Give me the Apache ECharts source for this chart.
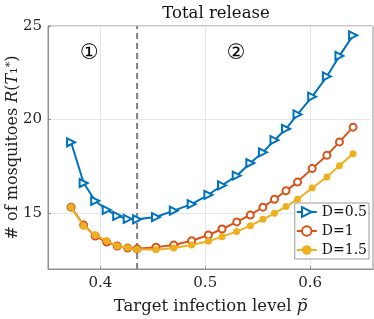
<!DOCTYPE html>
<html><head><meta charset="utf-8">
<script src="https://cdn.jsdelivr.net/npm/echarts@6/dist/echarts.min.js"></script>
<style>html,body{margin:0;padding:0;background:#fff}#c{width:374px;height:319px}</style>
</head><body><div id="c"></div>
<script>
const pTilde = [0.372,0.384,0.395,0.406,0.416,0.426,0.435,0.453,0.470,0.487,0.503,0.516,0.530,0.543,0.555,0.566,0.577,0.588,0.602,0.616,0.628,0.641];
const d05 = [18.78,16.6,15.65,15.16,14.84,14.68,14.66,14.78,15.12,15.47,15.97,16.47,16.99,17.67,18.24,18.89,19.5,20.27,21.22,22.3,23.4,24.5];
const d1  = [15.31,14.35,13.76,13.44,13.23,13.12,13.08,13.17,13.28,13.51,13.82,14.14,14.52,14.89,15.31,15.73,16.18,16.65,17.37,18.08,18.8,19.59];
const d15 = [15.31,14.3,13.82,13.51,13.23,13.14,13.05,13.03,13.12,13.28,13.48,13.73,14.0,14.32,14.66,14.98,15.34,15.73,16.33,16.92,17.53,18.16];
const seriesNames = ['D=0.5','D=1','D=1.5'];
const xTicks = [0.4,0.5,0.6];
const yTicks = [15,20,25];
const yRange = [12,25];
const dividerX = 0.435;
const regionLabels = ['①','②'];
const regionX = [0.3895,0.5295];
const regionY = 23.5;

const serif = 'DejaVu Serif';
const pair = (ys) => pTilde.map((x,i)=>[x, ys[i]]);
const chart = echarts.init(document.getElementById('c'));
chart.setOption({
  animation:false,
  title:{text:'Total release', left:211, top:0, textAlign:'center',
    textStyle:{fontFamily:serif, fontSize:16.5, fontWeight:'normal', color:'#111'}},
  grid:{left:48, right:1, top:26, bottom:50, show:true, borderColor:'#909090', borderWidth:1, outerBoundsMode:'none', containLabel:false},
  legend:{orient:'vertical', right:5, top:203, itemWidth:20, itemHeight:12, itemGap:5,
    padding:[2,2,2,1], borderColor:'#999', borderWidth:1, backgroundColor:'#fff',
    textStyle:{fontFamily:serif, fontSize:14, color:'#111'}, data:seriesNames},
  xAxis:{type:'value', min:0.35, max:0.66,
    name:'{a|Target infection level }{i|p̃}', nameLocation:'middle', nameGap:29, nameMoveOverlap:false,
    nameTextStyle:{rich:{a:{fontFamily:serif,fontSize:16.5,color:'#222'},i:{fontFamily:serif,fontSize:16.5,fontStyle:'italic',color:'#222'}}},
    axisLine:{lineStyle:{color:'#909090'}},
    axisTick:{inside:true, length:3, customValues:xTicks, lineStyle:{color:'#909090'}},
    axisLabel:{customValues:xTicks, fontFamily:serif, fontSize:15, color:'#262626', margin:7,
      formatter:v=>String(Math.round(v*10)/10)},
    splitLine:{show:true, lineStyle:{color:'#e6e6e6'}}},
  yAxis:{type:'value', min:yRange[0], max:yRange[1],
    name:'{a|# of mosquitoes }{i|R}{a|(}{i|T}{a|₁}{s|*}{a|)}', nameLocation:'middle', nameGap:27, nameMoveOverlap:false,
    nameTextStyle:{rich:{a:{fontFamily:serif,fontSize:16,color:'#222'},i:{fontFamily:serif,fontSize:16,fontStyle:'italic',color:'#222'},s:{fontFamily:serif,fontSize:11,color:'#222',verticalAlign:'top'}}},
    axisLine:{show:true, lineStyle:{color:'#909090'}},
    axisTick:{show:true, inside:true, length:3, customValues:yTicks, lineStyle:{color:'#909090'}},
    axisLabel:{customValues:yTicks, fontFamily:serif, fontSize:15, color:'#262626', margin:6},
    splitLine:{show:true, lineStyle:{color:'#e6e6e6'}}},
  series:[
    {type:'line', data:yRange.map(y=>[dividerX,y]), symbol:'none', silent:true, z:1,
      lineStyle:{type:[6,4], color:'#7f7f7f', width:2}},
    {name:seriesNames[0], type:'line', data:pair(d05), symbol:'emptyTriangle', symbolRotate:-90, symbolSize:8,
      lineStyle:{width:2, color:'#0072BD'}, itemStyle:{color:'#0072BD', borderWidth:1.5}, z:3,
      markPoint:{silent:true, symbol:'circle', symbolSize:1, itemStyle:{color:'rgba(0,0,0,0)'},
        label:{show:true, position:'inside', fontFamily:'DejaVu Sans', fontSize:21, color:'#000'},
        data:regionLabels.map((t,i)=>({coord:[regionX[i], regionY], value:t, label:{formatter:t}}))}},
    {name:seriesNames[1], type:'line', data:pair(d1), symbol:'emptyCircle', symbolSize:7,
      lineStyle:{width:2, color:'#D95319'}, itemStyle:{color:'#D95319', borderWidth:1.5}, z:2},
    {name:seriesNames[2], type:'line', data:pair(d15), symbol:'circle', symbolSize:7,
      lineStyle:{width:2, color:'#EDB120'}, itemStyle:{color:'#EDB120'}, z:4}
  ]
});
</script></body></html>
